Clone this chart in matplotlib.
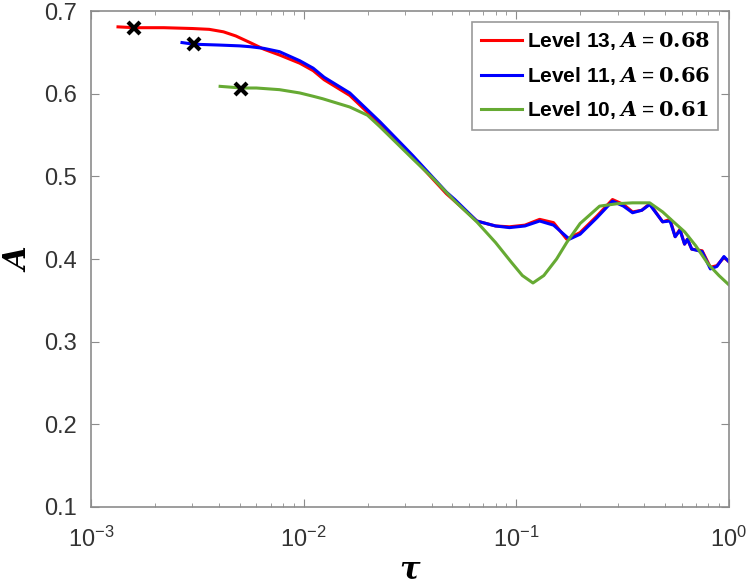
import numpy as np
import matplotlib
matplotlib.use("Agg")
from matplotlib import pyplot as plt
from matplotlib.ticker import LogLocator, NullFormatter

plt.rcParams["font.family"] = ["Liberation Sans", "DejaVu Sans"]
plt.rcParams["mathtext.fontset"] = "custom"
plt.rcParams["mathtext.rm"] = "Liberation Sans"
plt.rcParams["mathtext.it"] = "DejaVu Serif:italic:bold"
plt.rcParams["mathtext.bf"] = "DejaVu Serif:bold"

# Level 13 (red)
tau_13 = [1.34e-3, 1.6e-3, 2.2e-3, 3.0e-3, 3.6e-3, 4.2e-3, 4.8e-3, 5.6e-3, 6.5e-3, 7.7e-3,
          0.0096, 0.0111, 0.0125, 0.0165, 0.0229, 0.030, 0.0327, 0.0405, 0.047, 0.0515,
          0.0653, 0.080, 0.093, 0.11, 0.129, 0.15, 0.173, 0.20, 0.24, 0.284, 0.32, 0.353,
          0.39, 0.425, 0.489, 0.53, 0.56, 0.59, 0.62, 0.64, 0.67, 0.75, 0.82, 0.88, 0.95, 1.0]
A_13 = [0.681, 0.680, 0.680, 0.679, 0.678, 0.675, 0.670, 0.662, 0.654, 0.647,
        0.637, 0.628, 0.617, 0.598, 0.563, 0.533, 0.523, 0.497, 0.479, 0.470,
        0.446, 0.440, 0.439, 0.441, 0.448, 0.444, 0.424, 0.432, 0.452, 0.472, 0.466, 0.457,
        0.459, 0.467, 0.445, 0.448, 0.427, 0.436, 0.418, 0.424, 0.412, 0.410, 0.390, 0.392,
        0.402, 0.397]

# Level 11 (blue)
tau_11 = [2.68e-3, 3.05e-3, 4.0e-3, 5.0e-3, 5.6e-3, 6.5e-3, 7.7e-3, 0.0096, 0.0111, 0.0125,
          0.0165, 0.0229, 0.030, 0.0327, 0.0405, 0.047, 0.0515, 0.0653, 0.080, 0.093, 0.11,
          0.129, 0.15, 0.178, 0.20, 0.24, 0.284, 0.32, 0.353, 0.39, 0.425, 0.489, 0.53,
          0.56, 0.59, 0.62, 0.64, 0.67, 0.75, 0.82, 0.88, 0.95, 1.0]
A_11 = [0.662, 0.660, 0.659, 0.658, 0.657, 0.655, 0.651, 0.640, 0.631, 0.620,
        0.601, 0.566, 0.535, 0.525, 0.499, 0.481, 0.472, 0.446, 0.440, 0.438, 0.440,
        0.446, 0.441, 0.424, 0.430, 0.450, 0.470, 0.464, 0.456, 0.459, 0.466, 0.445, 0.446,
        0.427, 0.435, 0.418, 0.424, 0.412, 0.409, 0.388, 0.391, 0.403, 0.397]

# Level 10 (green)
tau_10 = [4.05e-3, 5.1e-3, 6.0e-3, 7.7e-3, 0.0096, 0.0111, 0.0123, 0.0165, 0.0200, 0.0229,
          0.0327, 0.0405, 0.0515, 0.0653, 0.080, 0.095, 0.107, 0.12, 0.135, 0.155,
          0.173, 0.20, 0.247, 0.30, 0.353, 0.425, 0.489, 0.55, 0.62, 0.70, 0.80, 0.90, 1.0]
A_10 = [0.609, 0.607, 0.607, 0.605, 0.601, 0.597, 0.594, 0.584, 0.574, 0.560,
        0.521, 0.498, 0.470, 0.445, 0.420, 0.396, 0.380, 0.371, 0.380, 0.400,
        0.420, 0.443, 0.464, 0.467, 0.468, 0.468, 0.457, 0.445, 0.433, 0.416, 0.394, 0.380,
        0.369]

labels = [r"Level 13, $\mathit{A} = \mathbf{0.68}$",
          r"Level 11, $\mathit{A} = \mathbf{0.66}$",
          r"Level 10, $\mathit{A} = \mathbf{0.61}$"]
colors = ["#ff0000", "#0000ff", "#66aa33"]
marker_tau = [1.6e-3, 3.05e-3, 5.1e-3]
marker_A = [0.680, 0.660, 0.606]

fig = plt.figure(figsize=(7.52, 5.88), dpi=100)
ax = fig.add_axes([0.121, 0.138, 0.848, 0.843])

for t, a, c, lab in zip([tau_13, tau_11, tau_10], [A_13, A_11, A_10], colors, labels):
    ax.plot(t, a, color=c, lw=2.2, label=lab)
ax.plot(marker_tau, marker_A, "x", color="black", ms=9, mew=3, ls="none")

ax.set_xscale("log")
ax.set_xlim(1e-3, 1)
ax.set_ylim(0.1, 0.7)
ax.set_yticks(np.arange(0.1, 0.71, 0.1))
ax.xaxis.set_minor_locator(LogLocator(base=10, subs=np.arange(2, 10)))
ax.xaxis.set_minor_formatter(NullFormatter())

for s in ax.spines.values():
    s.set_color("#8c8c8c")
    s.set_linewidth(1.2)
ax.tick_params(which="both", direction="in", top=True, right=True, colors="#8c8c8c",
               labelcolor="#333333", labelsize=17)
ax.tick_params(which="major", length=6)
ax.tick_params(which="minor", length=3)
ax.tick_params(axis="x", pad=14)
ax.tick_params(axis="y", pad=10)

ax.set_xlabel(r"$\mathit{\tau}$", fontsize=22, labelpad=3)
ax.set_ylabel(r"$\mathit{A}$", fontsize=22, labelpad=8)

leg = ax.legend(loc="upper right", prop={"weight": "bold", "size": 15},
                frameon=True, fancybox=False, edgecolor="#808080", handlelength=2.0,
                borderpad=0.4, labelspacing=0.6, handletextpad=0.2,
                borderaxespad=0.0, bbox_to_anchor=(0.983, 0.978))
leg.get_frame().set_linewidth(1.2)

fig.savefig("out.png", dpi=100)
